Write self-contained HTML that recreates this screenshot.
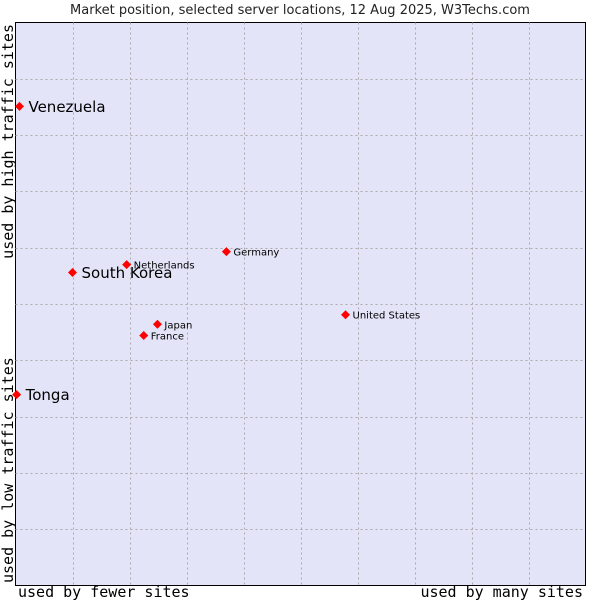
<!DOCTYPE html>
<html><head><meta charset="utf-8"><style>
body{margin:0;background:#fff;width:600px;height:600px;overflow:hidden}
svg{display:block}
</style></head><body>
<svg id="chart" width="600" height="600" xmlns="http://www.w3.org/2000/svg">
<text x="300" y="14" text-anchor="middle" font-family="DejaVu Sans, sans-serif" font-size="13" fill="#222">Market position, selected server locations, 12 Aug 2025, W3Techs.com</text>
<rect x="15.5" y="22.5" width="570" height="563" fill="#e3e4f8" stroke="#000" stroke-width="1"/>
<g id="grid"></g>
<g id="points"></g>
<text x="18" y="597" font-family="DejaVu Sans Mono, monospace" font-size="15" fill="#000">used by fewer sites</text>
<text x="583" y="597" text-anchor="end" font-family="DejaVu Sans Mono, monospace" font-size="15" fill="#000">used by many sites</text>
<text transform="translate(13,24) rotate(-90)" text-anchor="end" font-family="DejaVu Sans Mono, monospace" font-size="15" fill="#000">used by high traffic sites</text>
<text transform="translate(13,583) rotate(-90)" font-family="DejaVu Sans Mono, monospace" font-size="15" fill="#000">used by low traffic sites</text>
</svg>
<script>
const names=["Venezuela","South Korea","Netherlands","Germany","United States","Japan","France","Tonga"];
const xVals=[0.7,10,19.5,37,57.9,24.9,22.5,0.2];
const yVals=[85.1,55.6,57,59.3,48.1,46.4,44.4,33.9];
const big=[true,true,false,false,false,false,false,true];
const NS="http://www.w3.org/2000/svg";
const L=15.5,T=22.5,W=570,H=563;
function sx(v){return L+W*v/100;}
function sy(v){return T+H-H*v/100;}
const grid=document.getElementById('grid');
for(let i=1;i<10;i++){
 const l=document.createElementNS(NS,'line');
 
 
 const x=Math.round(sx(i*10))+0.5;
 l.setAttribute('x1',x);l.setAttribute('x2',x);l.setAttribute('y1',T);l.setAttribute('y2',T+H);
 l.setAttribute('stroke','#aaa');l.setAttribute('stroke-dasharray','2,3');grid.appendChild(l);
 const h=document.createElementNS(NS,'line');
 
 
 const y=Math.round(sy(i*10))+0.5;
 h.setAttribute('x1',L);h.setAttribute('x2',L+W);h.setAttribute('y1',y);h.setAttribute('y2',y);
 h.setAttribute('stroke','#aaa');h.setAttribute('stroke-dasharray','2,3');grid.appendChild(h);
}
const pts=document.getElementById('points');
names.forEach((n,i)=>{
 const x=sx(xVals[i]),y=sy(yVals[i]);
 const d=document.createElementNS(NS,'path');
 
 
 d.setAttribute('d',`M${x} ${y-4.5}L${x+4.5} ${y}L${x} ${y+4.5}L${x-4.5} ${y}Z`);
 d.setAttribute('fill','#f00');pts.appendChild(d);
 const t=document.createElementNS(NS,'text');
 
 
 t.setAttribute('x',x+(big[i]?9:7));t.setAttribute('y',y+(big[i]?5.5:4));
 t.setAttribute('font-family','DejaVu Sans, sans-serif');
 t.setAttribute('font-size',big[i]?'15':'10');t.setAttribute('fill','#000');
 t.textContent=n;pts.appendChild(t);
});
</script>
</body></html>
